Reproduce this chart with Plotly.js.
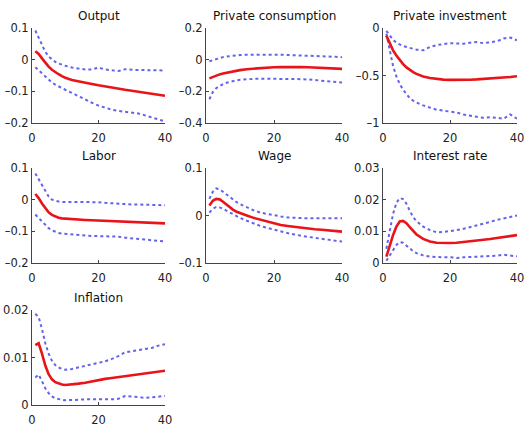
<!DOCTYPE html>
<html><head><meta charset="utf-8">
<script src="https://cdn.plot.ly/plotly-3.0.1.min.js"></script>
<style>html,body{margin:0;padding:0;background:#fff}#c{width:532px;height:446px}</style>
</head><body><div id="c"></div>
<script>
const periods = [1,2,3,4,5,6,7,8,9,10,12,14,16,18,20,22,24,26,28,30,32,34,36,38,40];
const titles = ["Output","Private consumption","Private investment","Labor","Wage","Interest rate","Inflation"];

const outputMed = [0.027,0.018,0.004,-0.01,-0.022,-0.032,-0.04,-0.046,-0.052,-0.057,-0.064,-0.069,-0.073,-0.077,-0.081,-0.085,-0.089,-0.092,-0.095,-0.098,-0.101,-0.104,-0.108,-0.111,-0.114];
const outputHi = [0.092,0.068,0.045,0.025,0.01,0.0,-0.007,-0.012,-0.016,-0.019,-0.025,-0.029,-0.031,-0.031,-0.025,-0.031,-0.034,-0.036,-0.03,-0.032,-0.033,-0.033,-0.033,-0.033,-0.034];
const outputLo = [-0.024,-0.034,-0.045,-0.055,-0.064,-0.072,-0.079,-0.085,-0.09,-0.095,-0.105,-0.116,-0.127,-0.136,-0.145,-0.152,-0.158,-0.162,-0.164,-0.166,-0.17,-0.176,-0.183,-0.189,-0.195];

const consMed = [-0.118,-0.108,-0.1,-0.093,-0.087,-0.082,-0.077,-0.073,-0.069,-0.066,-0.06,-0.056,-0.052,-0.05,-0.048,-0.047,-0.046,-0.046,-0.047,-0.048,-0.05,-0.052,-0.054,-0.056,-0.058];
const consHi = [-0.01,-0.003,0.005,0.011,0.016,0.02,0.023,0.026,0.027,0.029,0.031,0.032,0.032,0.032,0.031,0.031,0.03,0.029,0.028,0.026,0.024,0.022,0.02,0.018,0.016];
const consLo = [-0.25,-0.205,-0.18,-0.165,-0.155,-0.146,-0.14,-0.134,-0.13,-0.127,-0.123,-0.121,-0.12,-0.12,-0.119,-0.119,-0.12,-0.121,-0.123,-0.125,-0.128,-0.132,-0.136,-0.14,-0.144];

const invMed = [-0.08,-0.16,-0.235,-0.29,-0.34,-0.38,-0.415,-0.443,-0.465,-0.483,-0.51,-0.527,-0.537,-0.543,-0.546,-0.547,-0.546,-0.544,-0.541,-0.537,-0.533,-0.528,-0.522,-0.516,-0.508];
const invHi = [-0.03,-0.08,-0.125,-0.155,-0.175,-0.19,-0.2,-0.21,-0.22,-0.228,-0.235,-0.2,-0.18,-0.17,-0.16,-0.163,-0.165,-0.155,-0.148,-0.16,-0.148,-0.14,-0.11,-0.1,-0.13];
const invLo = [-0.06,-0.25,-0.4,-0.51,-0.59,-0.65,-0.7,-0.74,-0.765,-0.785,-0.815,-0.84,-0.86,-0.87,-0.88,-0.89,-0.91,-0.925,-0.935,-0.945,-0.94,-0.945,-0.955,-0.91,-0.955];

const laborMed = [0.018,0.005,-0.012,-0.028,-0.04,-0.048,-0.053,-0.057,-0.059,-0.06,-0.062,-0.063,-0.064,-0.065,-0.066,-0.067,-0.068,-0.069,-0.07,-0.07,-0.071,-0.072,-0.073,-0.074,-0.075];
const laborHi = [0.083,0.065,0.045,0.026,0.01,0.0,-0.004,-0.006,-0.007,-0.007,-0.007,-0.007,-0.007,-0.007,-0.008,-0.01,-0.012,-0.013,-0.014,-0.015,-0.015,-0.016,-0.017,-0.017,-0.018];
const laborLo = [-0.047,-0.058,-0.07,-0.081,-0.09,-0.097,-0.102,-0.105,-0.107,-0.108,-0.11,-0.112,-0.114,-0.115,-0.115,-0.115,-0.115,-0.117,-0.12,-0.122,-0.124,-0.126,-0.128,-0.13,-0.132];

const wageMed = [0.021,0.031,0.035,0.034,0.029,0.023,0.017,0.012,0.008,0.005,0.0,-0.005,-0.009,-0.013,-0.017,-0.02,-0.022,-0.024,-0.026,-0.027,-0.029,-0.03,-0.031,-0.033,-0.034];
const wageHi = [0.035,0.05,0.057,0.055,0.05,0.044,0.038,0.033,0.028,0.024,0.017,0.011,0.006,0.003,0.0,-0.002,-0.004,-0.005,-0.006,-0.006,-0.006,-0.006,-0.006,-0.006,-0.006];
const wageLo = [0.006,0.014,0.018,0.017,0.014,0.01,0.006,0.002,-0.002,-0.005,-0.011,-0.017,-0.022,-0.026,-0.03,-0.034,-0.037,-0.04,-0.043,-0.045,-0.047,-0.049,-0.051,-0.053,-0.055];

const rateMed = [0.002,0.0055,0.0088,0.0115,0.0131,0.0133,0.0126,0.0113,0.0101,0.009,0.0076,0.0068,0.0064,0.0063,0.0063,0.0064,0.0066,0.0068,0.0071,0.0073,0.0076,0.0079,0.0082,0.0085,0.0088];
const rateHi = [0.0045,0.01,0.0155,0.019,0.0205,0.0202,0.0187,0.0165,0.0145,0.0132,0.0115,0.0104,0.0097,0.0098,0.01,0.0104,0.0108,0.0113,0.0118,0.0124,0.013,0.0136,0.0141,0.0146,0.015];
const rateLo = [0.0007,0.0022,0.004,0.0057,0.0066,0.0064,0.0055,0.0045,0.0037,0.0031,0.0024,0.002,0.0018,0.0018,0.0018,0.0016,0.0018,0.0019,0.002,0.002,0.0021,0.0023,0.0026,0.0023,0.0021];

const inflMed = [0.0126,0.013,0.0108,0.0083,0.0065,0.0054,0.0048,0.0045,0.0043,0.0042,0.0043,0.0045,0.0047,0.005,0.0053,0.0055,0.0057,0.0059,0.0061,0.0063,0.0065,0.0067,0.0069,0.007,0.0072];
const inflHi = [0.0192,0.0185,0.016,0.013,0.0108,0.0093,0.0084,0.0079,0.0076,0.0074,0.0076,0.0079,0.0082,0.0085,0.0088,0.0092,0.0097,0.0103,0.0111,0.0113,0.0115,0.0117,0.012,0.0125,0.0128];
const inflLo = [0.0058,0.0064,0.005,0.0035,0.0025,0.0018,0.0014,0.0012,0.0011,0.001,0.001,0.0011,0.0012,0.0012,0.0011,0.0011,0.0012,0.0013,0.0019,0.0018,0.0016,0.0015,0.0016,0.0018,0.0019];

const yTicks = [
  [0.1,0,-0.1,-0.2],
  [0.2,0,-0.2,-0.4],
  [0,-0.5,-1],
  [0.1,0,-0.1,-0.2],
  [0.1,0,-0.1],
  [0.03,0.02,0.01,0],
  [0.02,0.01,0]
];
const xTicks = [0,20,40];

const panels = [
  [outputMed,outputHi,outputLo],[consMed,consHi,consLo],[invMed,invHi,invLo],
  [laborMed,laborHi,laborLo],[wageMed,wageHi,wageLo],[rateMed,rateHi,rateLo],
  [inflMed,inflHi,inflLo]
];

const W=532,H=446;
const colsPx=[[32,165],[206,342],[383,517]];
const rowsPx=[[28,123],[168,263],[310,405]];
const font="'DejaVu Sans', sans-serif";

const data=[], layout={
  width:W,height:H,margin:{l:0,r:0,t:0,b:0},showlegend:false,
  paper_bgcolor:'#fff',plot_bgcolor:'#fff',annotations:[],
  font:{family:font,size:11,color:'#222'}
};
panels.forEach((p,i)=>{
  const r=Math.floor(i/3), c=i%3, n=i+1;
  const xa='x'+(n===1?'':n), ya='y'+(n===1?'':n);
  const xk='xaxis'+(n===1?'':n), yk='yaxis'+(n===1?'':n);
  [p[1],p[2]].forEach(b=>data.push({x:periods,y:b,xaxis:xa,yaxis:ya,mode:'lines',
    line:{color:'rgba(70,70,235,0.85)',width:2,dash:'dot'},hoverinfo:'skip'}));
  data.push({x:periods,y:p[0],xaxis:xa,yaxis:ya,mode:'lines',line:{color:'#e8141a',width:2.6},hoverinfo:'skip'});
  const yt=yTicks[i];
  const ymax=Math.max(...yt), ymin=Math.min(...yt);
  layout[xk]={domain:[colsPx[c][0]/W,colsPx[c][1]/W],anchor:ya,range:[0,40],tickvals:xTicks,
    showgrid:false,zeroline:false,showline:true,linecolor:'#444',linewidth:1,ticks:'inside',ticklen:3,tickcolor:'#444',
    ticklabelstandoff:4,tickfont:{size:11.5,family:font,color:'#222'}};
  layout[yk]={domain:[1-rowsPx[r][1]/H,1-rowsPx[r][0]/H],anchor:xa,range:[ymin,ymax],tickvals:yt,
    ticktext:yt.map(v=>String(v).replace('-','\u2013')),
    showgrid:false,zeroline:false,showline:true,linecolor:'#444',linewidth:1,ticks:'inside',ticklen:3,tickcolor:'#444',
    tickfont:{size:11.5,family:font,color:'#222'}};
  layout.annotations.push({text:titles[i],xref:'paper',yref:'paper',
    x:(colsPx[c][0]+colsPx[c][1])/2/W,y:1-rowsPx[r][0]/H,xanchor:'center',yanchor:'bottom',yshift:3,
    showarrow:false,font:{size:12,family:font,color:'#111'}});
});
Plotly.newPlot('c',data,layout,{staticPlot:true});
</script></body></html>
